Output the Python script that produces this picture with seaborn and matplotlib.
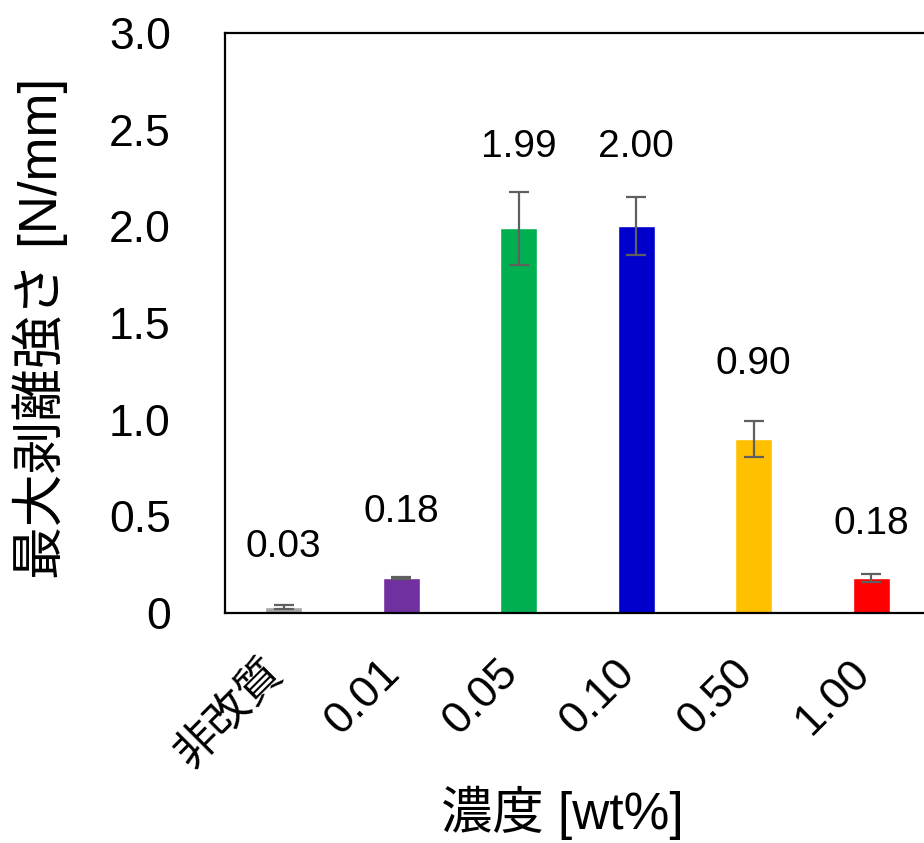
import numpy as np
import seaborn as sns
import matplotlib.pyplot as plt
import matplotlib.transforms as mtransforms

# データ
categories = ["非改質", "0.01", "0.05", "0.10", "0.50", "1.00"]
values = [0.03, 0.18, 1.99, 2.00, 0.90, 0.18]
errors = [0.01, 0.005, 0.19, 0.15, 0.095, 0.022]
value_labels = ["0.03", "0.18", "1.99", "2.00", "0.90", "0.18"]
label_y = [0.34, 0.52, 2.41, 2.41, 1.29, 0.46]
colors = ["#A6A6A6", "#7030A0", "#00B050", "#0000CC", "#FFC000", "#FF0000"]
yticks = [0, 0.5, 1.0, 1.5, 2.0, 2.5, 3.0]
ytick_labels = ["0", "0.5", "1.0", "1.5", "2.0", "2.5", "3.0"]

sns.set_theme(style="white")
plt.rcParams['font.family'] = ['Liberation Sans', 'Noto Sans CJK JP', 'DejaVu Sans']

fig = plt.figure(figsize=(9.24, 8.43), dpi=100)
ax = fig.add_axes([225 / 924, 230 / 843, 705 / 924, 580 / 843])

sns.barplot(x=categories, y=values, hue=categories, palette=colors,
            legend=False, width=0.315, saturation=1, ax=ax)
ax.errorbar(np.arange(len(values)), values, yerr=errors, fmt='none',
            ecolor='#5F5F5F', elinewidth=1.6, capsize=7, capthick=1.6)

for i, (lab, yy) in enumerate(zip(value_labels, label_y)):
    ax.text(i, yy, lab, ha='center', va='center', fontsize=28, color='black')

ax.set_xlim(-0.5, 5.5)
ax.set_ylim(0, 3.0)
ax.set_yticks(yticks)
ax.set_yticklabels(ytick_labels, fontsize=32)
ax.tick_params(axis='y', length=0, pad=39, colors='black')
ax.tick_params(axis='x', length=0, pad=49, colors='black')
shift = mtransforms.ScaledTranslation(0.07, 0, fig.dpi_scale_trans)
for t in ax.get_xticklabels():
    t.set_rotation(45)
    t.set_ha('right')
    t.set_va('bottom')
    t.set_rotation_mode('anchor')
    t.set_fontsize(32)
    t.set_transform(t.get_transform() + shift)

for sp in ax.spines.values():
    sp.set_color('black')
    sp.set_linewidth(1.6)

ax.set_ylabel("最大剥離強さ [N/mm]", fontsize=38, color='black')
ax.yaxis.set_label_coords(-0.223, 0.49)
ax.set_xlabel("濃度 [wt%]", fontsize=37, color='black')
ax.xaxis.set_label_coords(0.478, -0.297)

fig.savefig("out.png", dpi=100)
